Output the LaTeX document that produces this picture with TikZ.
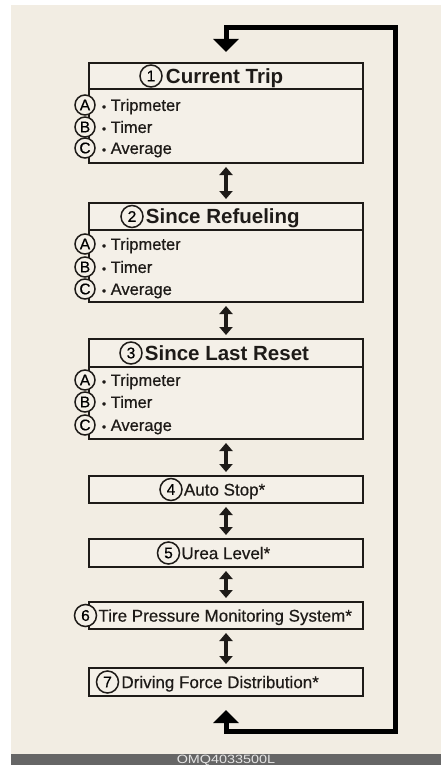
\documentclass[tikz,border=0pt]{standalone}
\usepackage{fontspec}
\setmainfont{Liberation Sans}
\newfontfamily\heavyfont[FakeBold=0.5]{Liberation Sans}
\newfontfamily\barfont[FakeStretch=1.2]{Liberation Sans}
\usetikzlibrary{positioning,arrows.meta,calc}
\definecolor{paper}{RGB}{242,237,227}
\definecolor{boxfill}{RGB}{244,240,232}
\definecolor{ink}{RGB}{30,27,24}
\definecolor{barcol}{RGB}{102,102,102}
\definecolor{bartxt}{RGB}{228,228,228}
\newcommand{\smdot}{{\fontsize{12bp}{12bp}\selectfont•}}
\tikzset{
  box/.style={draw=ink,line width=1.8bp,fill=boxfill,minimum width=274bp,inner sep=0pt,outer sep=0pt},
  numc/.style={circle,draw=ink,line width=1.5bp,fill=boxfill,minimum size=22bp,inner sep=0pt,
    font=\heavyfont\fontsize{15.5bp}{15.5bp}\selectfont},
  letc/.style={numc,minimum size=20bp},
  ttl/.style={font=\fontsize{20.5bp}{20.5bp}\selectfont\bfseries,text=ink,inner sep=0pt,text height=14.7bp,text depth=0pt},
  lbl/.style={font=\heavyfont\fontsize{17bp}{17bp}\selectfont,text=ink,inner sep=0pt,text height=12.2bp,text depth=0pt},
  itxt/.style={font=\heavyfont\fontsize{16.5bp}{16.5bp}\selectfont,text=ink,inner sep=0pt,text height=11.8bp,text depth=0pt},
  dbl/.style={{Triangle[width=13bp,length=8bp]}-{Triangle[width=13bp,length=8bp]},line width=3.5bp,ink,
    shorten <=4bp,shorten >=4bp},
  loopln/.style={{Triangle[width=25bp,length=13bp]}-{Triangle[width=25bp,length=13bp]},line width=5bp,
    line join=miter,black},
}
\begin{document}
\begin{tikzpicture}[x=1bp,y=-1bp]
  \clip (0,0) rectangle (441,765);
  \fill[white] (0,0) rectangle (441,765);
  \fill[paper] (11,5) rectangle (441,754);
  \fill[barcol] (11,754) rectangle (441,765);
  \node[font=\barfont\fontsize{12bp}{12bp}\selectfont,text=bartxt,anchor=base] (code) at (226,763.5) {OMQ4033500L};
  % boxes with a title row and three items
  \node[box,minimum height=26bp] (t1) at (226,76) {};
  \node[box,minimum height=74bp,below=0pt of t1] (b1) {};
  \node[box,minimum height=27bp] (t2) at (226,216.5) {};
  \node[box,minimum height=72bp,below=0pt of t2] (b2) {};
  \node[box,minimum height=28bp] (t3) at (226,353) {};
  \node[box,minimum height=72bp,below=0pt of t3] (b3) {};
  % single boxes
  \node[box,minimum height=27bp] (t4) at (226,489.5) {};
  \node[box,minimum height=28bp] (t5) at (226,553) {};
  \node[box,minimum height=27bp] (t6) at (226,615.5) {};
  \node[box,minimum height=28bp] (t7) at (226,682) {};
  % titles
  \node[numc] (n1) at ([xshift=-75bp]t1.center) {1};
  \node[ttl,right=3bp of n1] {Current Trip};
  \node[numc] (n2) at ([xshift=-94bp]t2.center) {2};
  \node[ttl,right=2bp of n2] {Since Refueling};
  \node[numc] (n3) at ([xshift=-95bp]t3.center) {3};
  \node[ttl,right=2bp of n3] {Since Last Reset};
  \node[numc] (n4) at ([xshift=-55bp]t4.center) {4};
  \node[lbl,right=1bp of n4] {Auto Stop*};
  \node[numc] (n5) at ([xshift=-57.5bp]t5.center) {5};
  \node[lbl,right=1bp of n5] {Urea Level*};
  \node[numc] (n6) at ([xshift=-140.5bp]t6.center) {6};
  \node[lbl,right=1bp of n6] {Tire Pressure Monitoring System*};
  \node[numc] (n7) at ([xshift=-118.5bp]t7.center) {7};
  \node[lbl,right=2bp of n7] {Driving Force Distribution*};
  % items
  \node[letc] (a1) at ([shift={(-4,16)}]b1.north west) {A};
  \node[letc] (a2) at ([shift={(-4,38)}]b1.north west) {B};
  \node[letc] (a3) at ([shift={(-4,59)}]b1.north west) {C};
  \node[itxt,right=6bp of a1] {\smdot\ Tripmeter};
  \node[itxt,right=6bp of a2] {\smdot\ Timer};
  \node[itxt,right=6bp of a3] {\smdot\ Average};
  \node[letc] (r1) at ([shift={(-4,14)}]b2.north west) {A};
  \node[letc] (r2) at ([shift={(-4,37)}]b2.north west) {B};
  \node[letc] (r3) at ([shift={(-4,59)}]b2.north west) {C};
  \node[itxt,right=6bp of r1] {\smdot\ Tripmeter};
  \node[itxt,right=6bp of r2] {\smdot\ Timer};
  \node[itxt,right=6bp of r3] {\smdot\ Average};
  \node[letc] (s1) at ([shift={(-4,13)}]b3.north west) {A};
  \node[letc] (s2) at ([shift={(-4,35)}]b3.north west) {B};
  \node[letc] (s3) at ([shift={(-4,58)}]b3.north west) {C};
  \node[itxt,right=6bp of s1] {\smdot\ Tripmeter};
  \node[itxt,right=6bp of s2] {\smdot\ Timer};
  \node[itxt,right=6bp of s3] {\smdot\ Average};
  % arrows between boxes
  \draw[dbl] (b1.south) -- (t2.north);
  \draw[dbl] (b2.south) -- (t3.north);
  \draw[dbl] (b3.south) -- (t4.north);
  \draw[dbl] (t4.south) -- (t5.north);
  \draw[dbl] (t5.south) -- (t6.north);
  \draw[dbl] (t6.south) -- (t7.north);
  % return loop
  \coordinate (cne) at (395.5,28);
  \coordinate (cse) at (395.5,731);
  \draw[loopln,shorten <=11bp,shorten >=14bp] (t1.north) |- (cne) -- (cse) -| (t7.south);
\end{tikzpicture}
\end{document}
